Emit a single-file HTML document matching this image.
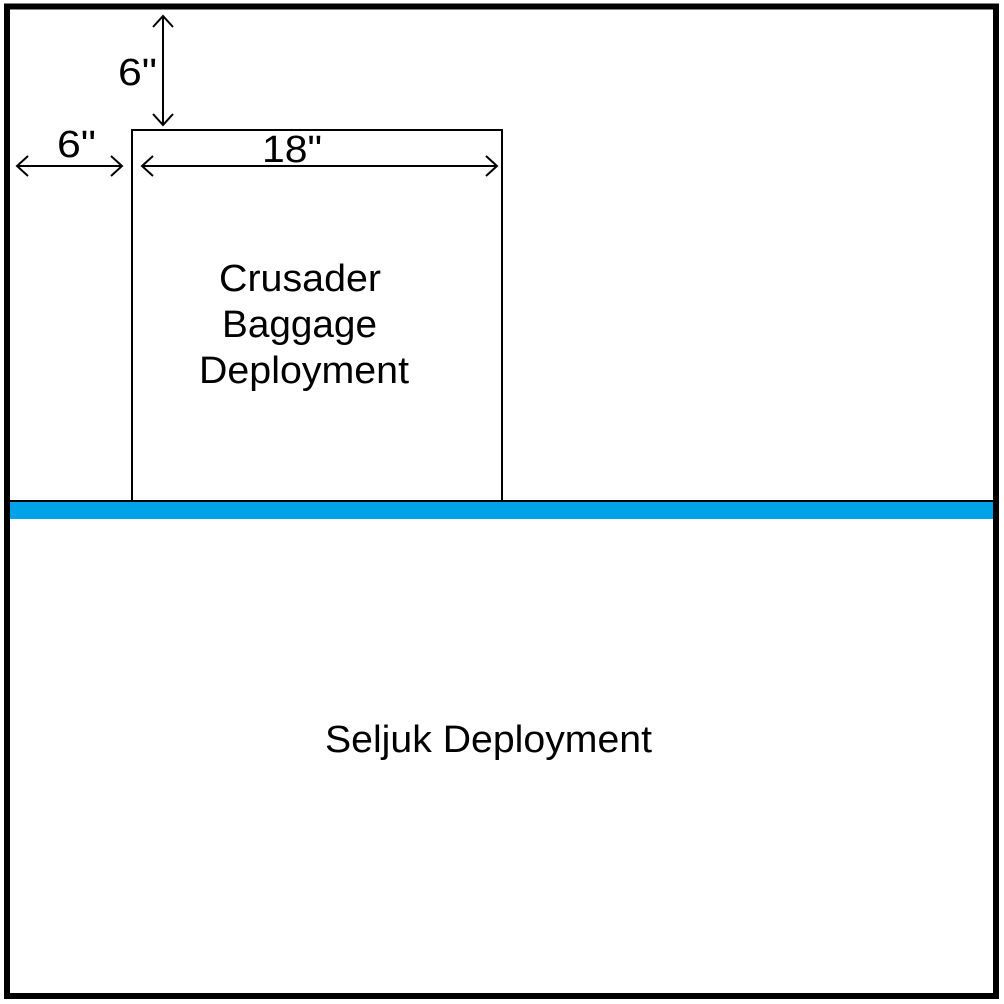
<!DOCTYPE html>
<html><head><meta charset="utf-8"><style>
html,body{margin:0;padding:0;background:#fff}
svg{display:block}
text{font-family:"Liberation Sans",sans-serif;fill:#000}
</style></head><body>
<svg width="1004" height="1004" viewBox="0 0 1004 1004">
<rect x="0" y="0" width="1004" height="1004" fill="#fff"/>
<rect x="7" y="6.5" width="989" height="989.5" fill="none" stroke="#000" stroke-width="6"/>
<rect x="132" y="130" width="370" height="371" fill="none" stroke="#000" stroke-width="2"/>
<line x1="10" y1="501" x2="993" y2="501" stroke="#000" stroke-width="2"/>
<rect x="10" y="502" width="983" height="17" fill="#00a2e8"/>
<g stroke="#000" stroke-width="2" fill="none">
<line x1="163" y1="16" x2="163" y2="125"/>
<polyline points="153,27 163,16 173,27"/>
<polyline points="153,114 163,125 173,114"/>
<line x1="17" y1="166" x2="122" y2="166"/>
<polyline points="28,156 17,166 28,176"/>
<polyline points="111,156 122,166 111,176"/>
<line x1="142" y1="166" x2="497" y2="166"/>
<polyline points="153,156 142,166 153,176"/>
<polyline points="486,156 497,166 486,176"/>
</g>
<text x="118" y="85" font-size="38" textLength="39" lengthAdjust="spacingAndGlyphs">6"</text>
<text x="57" y="157" font-size="38" textLength="39" lengthAdjust="spacingAndGlyphs">6"</text>
<text x="262" y="162" font-size="38" textLength="60" lengthAdjust="spacingAndGlyphs">18"</text>
<text x="219" y="291" font-size="38" textLength="162" lengthAdjust="spacingAndGlyphs">Crusader</text>
<text x="222" y="337" font-size="38" textLength="155" lengthAdjust="spacingAndGlyphs">Baggage</text>
<text x="199" y="383" font-size="38" textLength="210" lengthAdjust="spacingAndGlyphs">Deployment</text>
<text x="325" y="752" font-size="38" textLength="327" lengthAdjust="spacingAndGlyphs">Seljuk Deployment</text>
</svg>
</body></html>
